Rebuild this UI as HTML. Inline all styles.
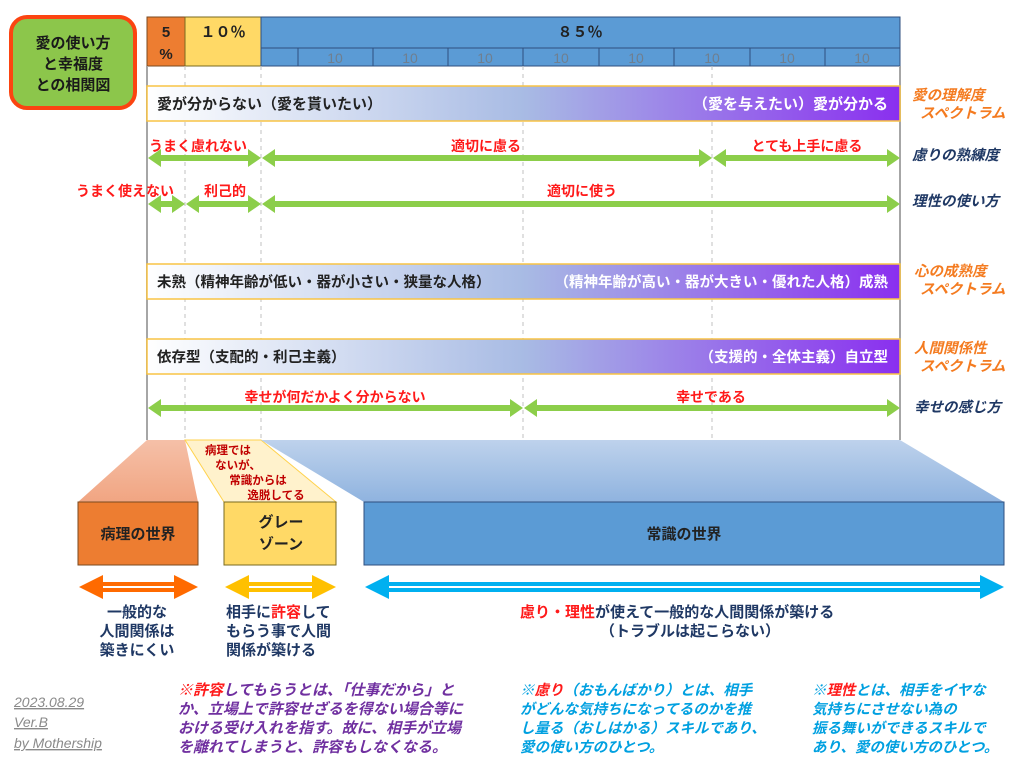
<!DOCTYPE html>
<html><head><meta charset="utf-8"><style>
html,body{margin:0;padding:0;background:#fff;}
svg text{font-family:"Liberation Sans","Noto Sans CJK JP",sans-serif;font-weight:bold;}
svg text.n{font-weight:normal;}
</style></head><body>
<svg width="1024" height="768" viewBox="0 0 1024 768" xmlns="http://www.w3.org/2000/svg">
<defs>
<linearGradient id="g" x1="0" x2="1" y1="0" y2="0">
<stop offset="0" stop-color="#ffffff"/>
<stop offset="0.5" stop-color="#a8bbe4"/>
<stop offset="1" stop-color="#8a2fef"/>
</linearGradient>
<linearGradient id="gb" x1="0" x2="0" y1="0" y2="1">
<stop offset="0" stop-color="#bed2ec"/><stop offset="1" stop-color="#8fb3df"/>
</linearGradient>
<linearGradient id="go" x1="0" x2="0" y1="0" y2="1">
<stop offset="0" stop-color="#f5c0a8"/><stop offset="1" stop-color="#f1a582"/>
</linearGradient>
</defs>

<rect x="11" y="17" width="124" height="91" rx="16" fill="#8cc64b" stroke="#fb4411" stroke-width="4"/>
<text x="73" y="48" font-size="15" text-anchor="middle" fill="#1a1a1a">愛の使い方</text>
<text x="73" y="69" font-size="15" text-anchor="middle" fill="#1a1a1a">と幸福度</text>
<text x="73" y="90" font-size="15" text-anchor="middle" fill="#1a1a1a">との相関図</text>

<rect x="147" y="17" width="38" height="49" fill="#ed7d31" stroke="#7a4a20"/>
<rect x="185" y="17" width="76" height="49" fill="#ffd966" stroke="#7a6a20"/>
<rect x="261" y="17" width="639" height="49" fill="#5b9bd5" stroke="#2f4f7f"/>
<line x1="261" y1="48" x2="900" y2="48" stroke="#2f4f7f"/>
<g stroke="#2f4f7f">
<line x1="298" y1="48" x2="298" y2="66"/><line x1="373" y1="48" x2="373" y2="66"/>
<line x1="448" y1="48" x2="448" y2="66"/><line x1="523" y1="48" x2="523" y2="66"/>
<line x1="599" y1="48" x2="599" y2="66"/><line x1="674" y1="48" x2="674" y2="66"/>
<line x1="750" y1="48" x2="750" y2="66"/><line x1="825" y1="48" x2="825" y2="66"/>
</g>
<g font-size="14" fill="#6f7f90" text-anchor="middle">
<text class="n" x="335" y="63">10</text><text class="n" x="410" y="63">10</text>
<text class="n" x="485" y="63">10</text><text class="n" x="561" y="63">10</text>
<text class="n" x="636" y="63">10</text><text class="n" x="712" y="63">10</text>
<text class="n" x="787" y="63">10</text><text class="n" x="862" y="63">10</text>
</g>
<text x="166" y="37" font-size="15" text-anchor="middle" fill="#222">5</text>
<text x="166" y="59" font-size="15" text-anchor="middle" fill="#222">%</text>
<text x="223" y="37" font-size="15" text-anchor="middle" fill="#222">１０％</text>
<text x="580" y="37" font-size="15" text-anchor="middle" fill="#222">８５％</text>

<line x1="147" y1="66" x2="147" y2="440" stroke="#a6a6a6" stroke-width="2"/>
<line x1="900" y1="66" x2="900" y2="440" stroke="#a6a6a6" stroke-width="2"/>
<g stroke="#c0c0c0" stroke-dasharray="4,4">
<line x1="185" y1="66" x2="185" y2="440"/><line x1="261" y1="66" x2="261" y2="440"/>
<line x1="523" y1="66" x2="523" y2="440"/><line x1="712" y1="66" x2="712" y2="440"/>
</g>

<rect x="147" y="86" width="753" height="35" fill="url(#g)" stroke="#f8c445" stroke-width="1.5"/>
<text x="157" y="109" font-size="15" fill="#222">愛が分からない（愛を貰いたい）</text>
<text x="888" y="109" font-size="15" fill="#fff" text-anchor="end">（愛を与えたい）愛が分かる</text>
<rect x="147" y="264" width="753" height="35" fill="url(#g)" stroke="#f8c445" stroke-width="1.5"/>
<text x="157" y="287" font-size="14.5" fill="#222">未熟（精神年齢が低い・器が小さい・狭量な人格）</text>
<text x="888" y="287" font-size="14.5" fill="#fff" text-anchor="end">（精神年齢が高い・器が大きい・優れた人格）成熟</text>
<rect x="147" y="339" width="753" height="35" fill="url(#g)" stroke="#f8c445" stroke-width="1.5"/>
<text x="157" y="362" font-size="14.5" fill="#222">依存型（支配的・利己主義）</text>
<text x="888" y="362" font-size="14.5" fill="#fff" text-anchor="end">（支援的・全体主義）自立型</text>

<g fill="#8cce4a">
<polygon points="148,158 161,149 161,155 248,155 248,149 261,158 248,167 248,161 161,161 161,167"/>
<polygon points="262,158 275,149 275,155 699,155 699,149 712,158 699,167 699,161 275,161 275,167"/>
<polygon points="713,158 726,149 726,155 887,155 887,149 900,158 887,167 887,161 726,161 726,167"/>
<polygon points="148,204 161,195 161,201 172,201 172,195 185,204 172,213 172,207 161,207 161,213"/>
<polygon points="186,204 199,195 199,201 248,201 248,195 261,204 248,213 248,207 199,207 199,213"/>
<polygon points="262,204 275,195 275,201 887,201 887,195 900,204 887,213 887,207 275,207 275,213"/>
<polygon points="148,408 161,399 161,405 510,405 510,399 523,408 510,417 510,411 161,411 161,417"/>
<polygon points="524,408 537,399 537,405 887,405 887,399 900,408 887,417 887,411 537,411 537,417"/>
</g>
<g font-size="14" fill="#ff1a1a">
<text x="149" y="151">うまく慮れない</text>
<text x="486" y="151" text-anchor="middle">適切に慮る</text>
<text x="807" y="151" text-anchor="middle">とても上手に慮る</text>
<text x="76" y="196">うまく使えない</text>
<text x="225" y="196" text-anchor="middle">利己的</text>
<text x="582" y="196" text-anchor="middle">適切に使う</text>
<text x="335" y="402" text-anchor="middle">幸せが何だかよく分からない</text>
<text x="711" y="402" text-anchor="middle">幸せである</text>
</g>

<g font-size="14.5" font-style="italic">
<text x="912" y="100" fill="#f47b20">愛の理解度</text>
<text x="920" y="118" fill="#f47b20">スペクトラム</text>
<text x="912" y="160" fill="#1f3864">慮りの熟練度</text>
<text x="912" y="206" fill="#1f3864">理性の使い方</text>
<text x="914" y="276" fill="#f47b20">心の成熟度</text>
<text x="920" y="294" fill="#f47b20">スペクトラム</text>
<text x="914" y="353" fill="#f47b20">人間関係性</text>
<text x="920" y="371" fill="#f47b20">スペクトラム</text>
<text x="914" y="412" fill="#1f3864">幸せの感じ方</text>
</g>

<polygon points="147,440 185,440 198,502 78,502" fill="url(#go)"/>
<polygon points="185,440 261,440 336,502 224,502" fill="#fff2cc" stroke="#ffd24d"/>
<polygon points="261,440 900,440 1004,502 364,502" fill="url(#gb)"/>
<g font-size="11.5" fill="#c00000" text-anchor="middle">
<text x="228" y="454">病理では</text>
<text x="238" y="469">ないが、</text>
<text x="258" y="484">常識からは</text>
<text x="276" y="499">逸脱してる</text>
</g>

<rect x="78" y="502" width="120" height="63" fill="#ed7d31" stroke="#7a4a20"/>
<text x="138" y="539" font-size="15" fill="#222" text-anchor="middle">病理の世界</text>
<rect x="224" y="502" width="112" height="63" fill="#ffd966" stroke="#7a6a20"/>
<text x="281" y="527" font-size="15" fill="#222" text-anchor="middle">グレー</text>
<text x="281" y="549" font-size="15" fill="#222" text-anchor="middle">ゾーン</text>
<rect x="364" y="502" width="640" height="63" fill="#5b9bd5" stroke="#2f4f7f"/>
<text x="684" y="539" font-size="15" fill="#222" text-anchor="middle">常識の世界</text>

<polygon fill="#ff6a00" points="79,587 103,575 103,582 174,582 174,575 198,587 174,599 174,592 103,592 103,599"/>
<rect x="103" y="586" width="71" height="2" fill="#fff"/>
<polygon fill="#ffc000" points="225,587 249,575 249,582 312,582 312,575 336,587 312,599 312,592 249,592 249,599"/>
<rect x="249" y="586" width="63" height="2" fill="#fff"/>
<polygon fill="#00b0f0" points="365,587 389,575 389,582 980,582 980,575 1004,587 980,599 980,592 389,592 389,599"/>
<rect x="389" y="586" width="591" height="2" fill="#fff"/>

<g font-size="15" fill="#1f3864" text-anchor="middle">
<text x="137" y="617">一般的な</text>
<text x="137" y="636">人間関係は</text>
<text x="137" y="655">築きにくい</text>
<text x="226" y="617" text-anchor="start">相手に<tspan fill="#ff1a1a">許容</tspan>して</text>
<text x="226" y="636" text-anchor="start">もらう事で人間</text>
<text x="226" y="655" text-anchor="start">関係が築ける</text>
<text x="520" y="617" text-anchor="start"><tspan fill="#ff1a1a">慮り・理性</tspan>が使えて一般的な人間関係が築ける</text>
<text x="600" y="636" text-anchor="start">（トラブルは起こらない）</text>
</g>

<g font-size="14" fill="#8a8a8a" font-style="italic" text-decoration="underline">
<text class="n" x="14" y="707">2023.08.29</text>
<text class="n" x="14" y="727">Ver.B</text>
<text class="n" x="14" y="748">by Mothership</text>
</g>
<g font-size="15" font-style="italic" fill="#7030a0">
<text x="178" y="695"><tspan fill="#ff1a1a">※許容</tspan>してもらうとは、「仕事だから」と</text>
<text x="178" y="714">か、立場上で許容せざるを得ない場合等に</text>
<text x="178" y="733">おける受け入れを指す。故に、相手が立場</text>
<text x="178" y="752">を離れてしまうと、許容もしなくなる。</text>
</g>
<g font-size="14.5" font-style="italic" fill="#00a0e0">
<text x="520" y="695">※<tspan fill="#ff1a1a">慮り</tspan>（おもんばかり）とは、相手</text>
<text x="520" y="714">がどんな気持ちになってるのかを推</text>
<text x="520" y="733">し量る（おしはかる）スキルであり、</text>
<text x="520" y="752">愛の使い方のひとつ。</text>
<text x="812" y="695">※<tspan fill="#ff1a1a">理性</tspan>とは、相手をイヤな</text>
<text x="812" y="714">気持ちにさせない為の</text>
<text x="812" y="733">振る舞いができるスキルで</text>
<text x="812" y="752">あり、愛の使い方のひとつ。</text>
</g>
</svg>
</body></html>
